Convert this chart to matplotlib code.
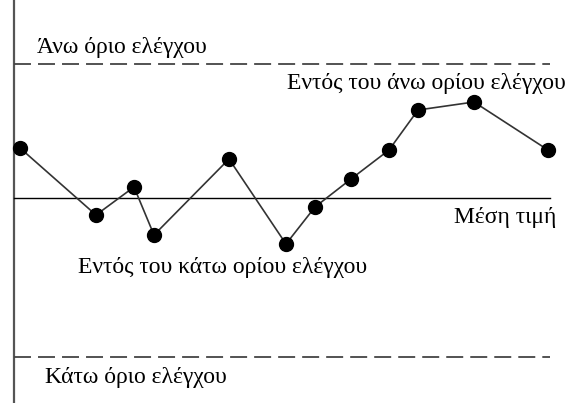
import matplotlib
matplotlib.use("Agg")
import matplotlib.pyplot as plt

plt.rcParams['font.family'] = ['Liberation Serif', 'DejaVu Serif']

# Sample times and measured values of the monitored quantity
times = [2.0, 9.6, 13.4, 15.4, 22.9, 28.6, 31.5, 35.1, 38.9, 41.8, 47.4, 54.8]
values = [55.0, 48.3, 51.1, 46.3, 53.9, 45.4, 49.1, 51.9, 54.8, 58.8, 59.6, 54.8]

center = 50.0
ucl = 63.4
lcl = 34.1

labels = {
    "ucl": "Άνω όριο ελέγχου",
    "lcl": "Κάτω όριο ελέγχου",
    "mean": "Μέση τιμή",
    "upper_zone": "Εντός του άνω ορίου ελέγχου",
    "lower_zone": "Εντός του κάτω ορίου ελέγχου",
}

fig = plt.figure(figsize=(5.74, 4.05), dpi=100)
ax = fig.add_axes([0, 0, 1, 1])
ax.set_xlim(0, 57.4)
ax.set_ylim(29.3, 69.8)
ax.axis("off")

x_left, x_right = 1.4, 55.0

# vertical axis
ax.plot([1.35, 1.35], [29.5, 69.8], color="#555555", lw=1.6, solid_capstyle="butt")

# center and control limits
ax.plot([x_left, x_right], [center, center], color="black", lw=1.0)
for lim in (ucl, lcl):
    ax.plot([x_left, x_right], [lim, lim], color="#444444", lw=1.3,
            dashes=(9.4, 3.9))

# observations
ax.plot(times, values, color="#333333", lw=1.2, zorder=2)
ax.plot(times, values, "o", color="black", ms=10, zorder=3)

fs = 17
ax.text(3.7, ucl + 1.7, labels["ucl"], fontsize=fs, ha="left", va="center")
ax.text(56.6, ucl - 1.9, labels["upper_zone"], fontsize=fs, ha="right", va="center")
ax.text(55.6, center - 1.9, labels["mean"], fontsize=fs, ha="right", va="center")
ax.text(7.8, center - 6.9, labels["lower_zone"], fontsize=fs, ha="left", va="center")
ax.text(4.5, lcl - 2.1, labels["lcl"], fontsize=fs, ha="left", va="center")

fig.savefig("out.png", dpi=100, facecolor="white")
